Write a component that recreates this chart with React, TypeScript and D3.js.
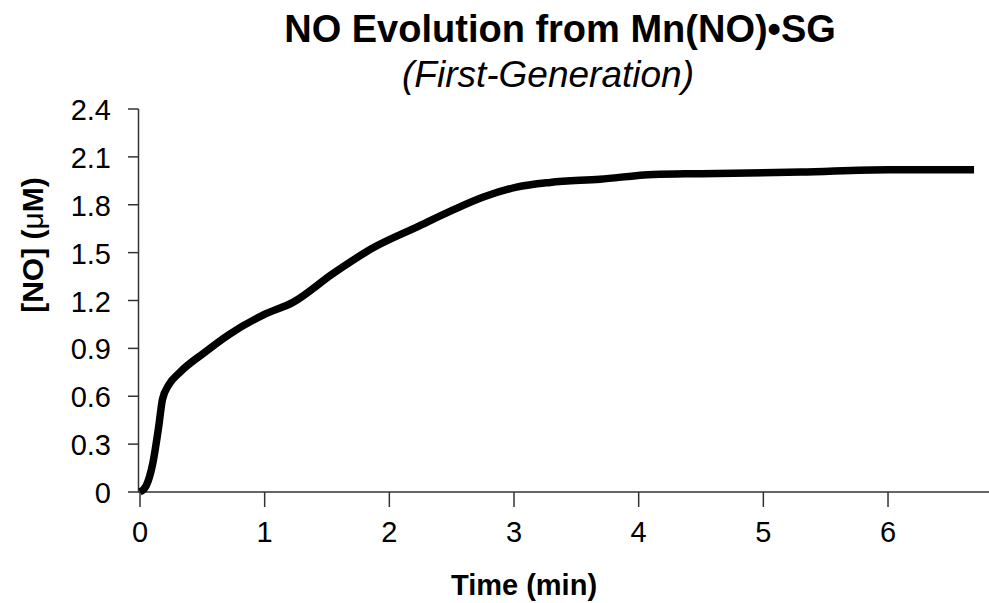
import React from "react";
import * as d3 from "d3";

// time (min) vs [NO] (uM)
const timeMin = [0, 0.05, 0.1, 0.15, 0.18, 0.23, 0.32, 0.51, 0.72, 0.99, 1.23, 1.55, 1.87, 2.22, 2.49, 2.76, 3.02, 3.29, 3.69, 4.12, 4.5, 5.3, 6.0, 6.69];
const noConc = [0, 0.04, 0.17, 0.41, 0.58, 0.67, 0.75, 0.87, 0.99, 1.11, 1.19, 1.37, 1.53, 1.66, 1.76, 1.85, 1.91, 1.94, 1.96, 1.99, 1.995, 2.005, 2.02, 2.02];
const xTicks = [0, 1, 2, 3, 4, 5, 6];
const yTicks = [0, 0.3, 0.6, 0.9, 1.2, 1.5, 1.8, 2.1, 2.4];

const W = 989;
const H = 603;
const font = "'Liberation Sans', Arial, sans-serif";

export default function App() {
  const x = d3.scaleLinear().domain([0, 6.81]).range([140, 989]);
  const y = d3.scaleLinear().domain([0, 2.4]).range([492, 109]);

  const pts = timeMin.map((t, i) => [t, noConc[i]] as [number, number]);
  const line = d3
    .line<[number, number]>()
    .x(d => x(d[0]))
    .y(d => y(d[1]))
    .curve(d3.curveMonotoneX);

  return (
    <svg width={W} height={H} style={{ position: "absolute", left: 0, top: 0, background: "#fff" }} fontFamily={font}>
      {/* titles */}
      <text x={560} y={42} textAnchor="middle" fontSize={38} fontWeight="bold" fill="#000">
        NO Evolution from Mn(NO)•SG
      </text>
      <text x={548} y={87} textAnchor="middle" fontSize={37} fontStyle="italic" fill="#000">
        (First-Generation)
      </text>

      {/* y axis */}
      <line x1={138.5} x2={138.5} y1={y(2.4)} y2={y(0)} stroke="#333" strokeWidth={1.5} />
      {yTicks.map(v => (
        <g key={v}>
          <line x1={128} x2={138.5} y1={y(v)} y2={y(v)} stroke="#333" strokeWidth={1.5} />
          <text x={111} y={y(v) + 11} textAnchor="end" fontSize={29} fill="#000">
            {String(v)}
          </text>
        </g>
      ))}

      {/* x axis */}
      <line x1={138} x2={989} y1={492} y2={492} stroke="#333" strokeWidth={1.5} />
      {xTicks.map(v => (
        <g key={v}>
          <line x1={x(v)} x2={x(v)} y1={492} y2={507} stroke="#333" strokeWidth={1.5} />
          <text x={x(v)} y={542} textAnchor="middle" fontSize={29} fill="#000">
            {String(v)}
          </text>
        </g>
      ))}

      {/* axis labels */}
      <text x={524} y={595} textAnchor="middle" fontSize={29} fontWeight="bold" fill="#000">
        Time (min)
      </text>
      <text transform="translate(43,245) rotate(-90)" textAnchor="middle" fontSize={30} fontWeight="bold" fill="#000">
        [NO] (<tspan fontWeight="normal">μ</tspan>M)
      </text>

      {/* data line */}
      <path d={line(pts) || ""} fill="none" stroke="#000" strokeWidth={7.5} strokeLinejoin="round" />
    </svg>
  );
}
